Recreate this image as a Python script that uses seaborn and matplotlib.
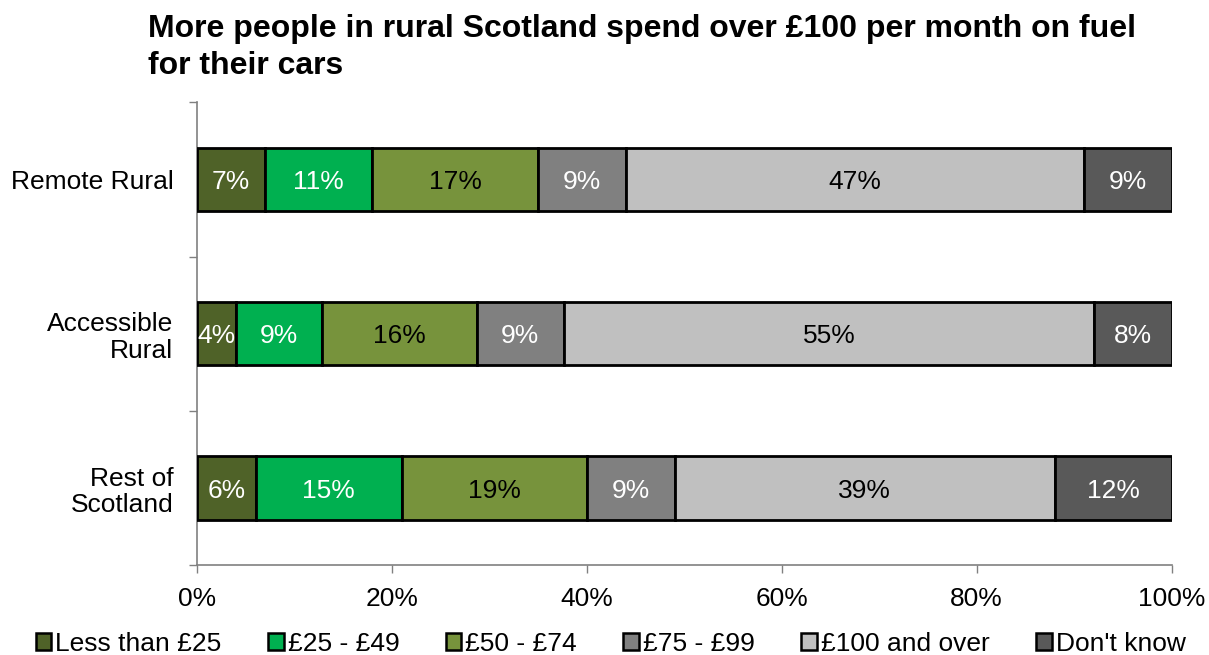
import numpy as np
import matplotlib
matplotlib.use("Agg")
import matplotlib.pyplot as plt
from matplotlib.patches import Patch
import seaborn as sns

# Survey responses: monthly spend on car fuel, by area type (%)
areas = ["Remote Rural", "Accessible\nRural", "Rest of\nScotland"]
bands = ["Less than £25", "£25 - £49", "£50 - £74", "£75 - £99",
         "£100 and over", "Don't know"]
remote_rural = [7, 11, 17, 9, 47, 9]
accessible_rural = [4, 9, 16, 9, 55, 8]
rest_of_scotland = [6, 15, 19, 9, 39, 12]
x_ticks = [0, 20, 40, 60, 80, 100]

colors = ["#4F6228", "#00B050", "#77933C", "#808080", "#C0C0C0", "#595959"]
label_colors = ["white", "white", "black", "white", "black", "white"]

sns.set_theme(style="white")
plt.rcParams["font.family"] = ["Liberation Sans", "DejaVu Sans"]
plt.rcParams["text.color"] = "black"
plt.rcParams["xtick.color"] = "black"
plt.rcParams["ytick.color"] = "black"

FS = 19

fig = plt.figure(figsize=(12.09, 6.55), dpi=100)
ax = fig.add_axes([0.163, 0.137, 0.806, 0.707])

rows = [remote_rural, accessible_rural, rest_of_scotland]
positions = np.arange(len(areas))
for yi, row in zip(positions, rows):
    vals = np.array(row, dtype=float)
    shares = vals / vals.sum() * 100  # 100% stacked
    left = 0.0
    for k, (share, lab) in enumerate(zip(shares, row)):
        ax.barh(yi, share, left=left, height=0.41, color=colors[k],
                edgecolor="black", linewidth=2, zorder=3)
        ax.text(left + share / 2, yi, f"{lab}%", ha="center",
                va="center_baseline", color=label_colors[k], fontsize=FS,
                zorder=4)
        left += share

ax.set_xlim(0, 100)
ax.set_ylim(2.5, -0.5)
ax.set_xticks(x_ticks)
ax.set_xticklabels([f"{t}%" for t in x_ticks], fontsize=FS)
ax.set_yticks(positions)
ax.set_yticklabels(areas, fontsize=FS, linespacing=1.15)
ax.set_yticks([-0.5, 0.5, 1.5, 2.5], minor=True)
ax.tick_params(axis="y", which="major", length=0, pad=17)
ax.tick_params(axis="y", which="minor", length=6, width=1, color="#808080",
               direction="out", left=True)
ax.tick_params(axis="x", length=6, width=1, color="#808080", direction="out",
               bottom=True, pad=10)
for side in ["top", "right"]:
    ax.spines[side].set_visible(False)
for side in ["left", "bottom"]:
    ax.spines[side].set_color("#808080")
    ax.spines[side].set_linewidth(1.2)
ax.grid(False)

fig.text(0.1225, 0.978, "More people in rural Scotland spend over £100 per month on fuel\nfor their cars",
         ha="left", va="top", fontsize=23, fontweight="bold", linespacing=1.3)

handles = [Patch(facecolor=c, edgecolor="black", linewidth=1.8) for c in colors]
fig.legend(handles, bands, loc="lower center", bbox_to_anchor=(0.505, -0.038),
           ncol=6, frameon=False, fontsize=FS, handlelength=0.6,
           handleheight=0.6, handletextpad=0.15, columnspacing=1.75)

fig.savefig("out.png", dpi=100)
